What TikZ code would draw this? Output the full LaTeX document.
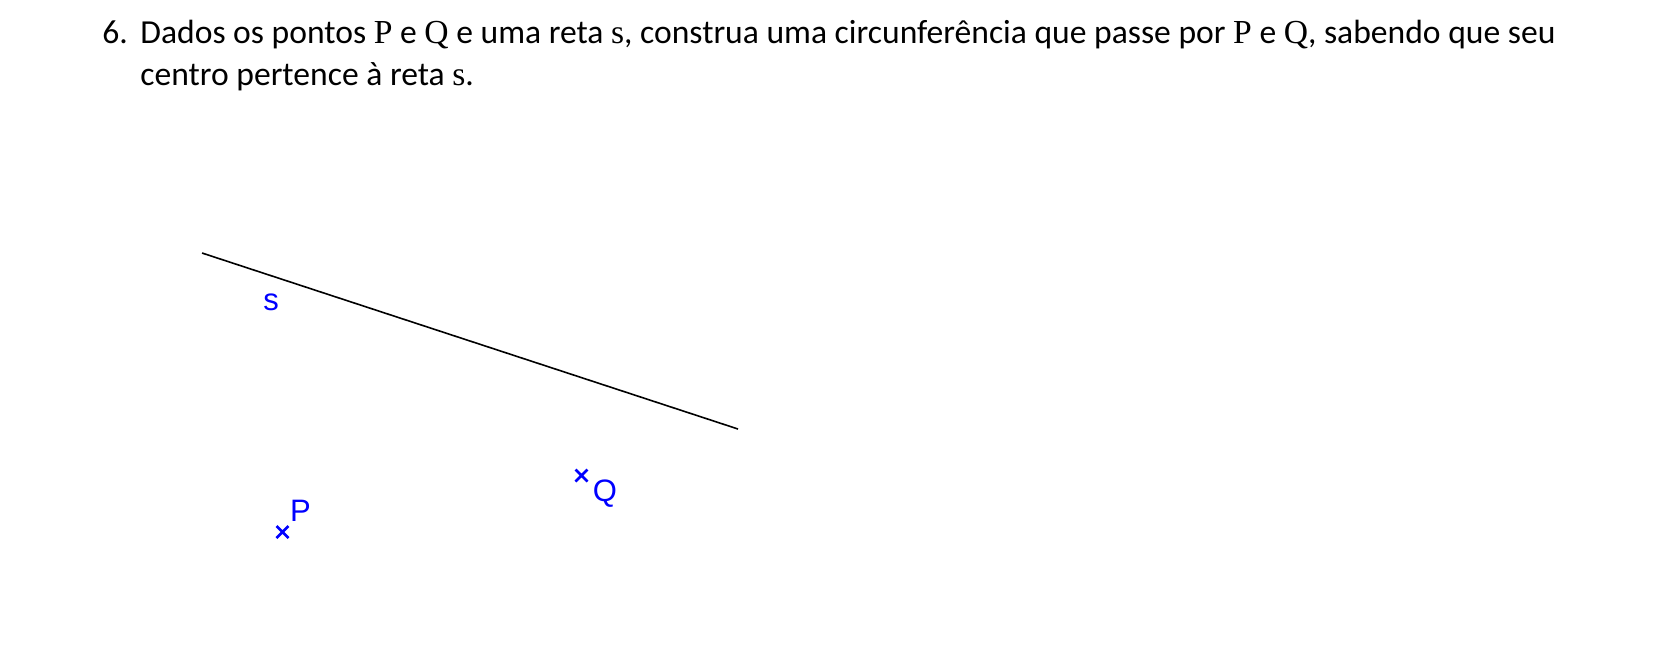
\documentclass[tikz,border=0pt]{standalone}
\usepackage{fontspec}
\usetikzlibrary{calc}
\setmainfont{Carlito}
\newfontfamily\serifm{Liberation Serif}
\newfontfamily\lblfont{Liberation Sans}
\begin{document}
\begin{tikzpicture}[x=0.5pt,y=-0.5pt,
  txt/.style={anchor=base west,inner sep=0pt,font=\fontsize{16.8}{20}\selectfont},
  lbl/.style={text=blue,inner sep=0pt,font=\lblfont\fontsize{15.5}{17}\selectfont},
  pt/.style={blue,line width=1.3pt}]
\useasboundingbox (0,0) rectangle (1653,666);
\newcommand{\mv}[1]{{\serifm #1}}
\node[txt] (num) at (102,43) {6.};
\node[txt] (l1) at (140,43) {Dados os pontos \mv{P} e \mv{Q} e uma reta \mv{s}, construa uma circunferência que passe por \mv{P} e \mv{Q}, sabendo que seu};
\node[txt] (l2) at (140,85) {centro pertence à reta \mv{s}.};
\coordinate (sa) at (202,253);
\coordinate (sb) at (738,429);
\draw[line width=0.8pt] (sa) -- (sb);
\node[lbl] (sl) at (271,302) {s};
\coordinate (P) at (282.5,532);
\coordinate (Q) at (581.5,475.5);
\draw[pt] ($(P)+(-6,-6)$) -- ($(P)+(6,6)$) ($(P)+(-6,6)$) -- ($(P)+(6,-6)$);
\draw[pt] ($(Q)+(-6,-6)$) -- ($(Q)+(6,6)$) ($(Q)+(-6,6)$) -- ($(Q)+(6,-6)$);
\node[lbl] (Pl) at (300.5,511) {P};
\node[lbl] (Ql) at (605,494) {Q};
\end{tikzpicture}
\end{document}
